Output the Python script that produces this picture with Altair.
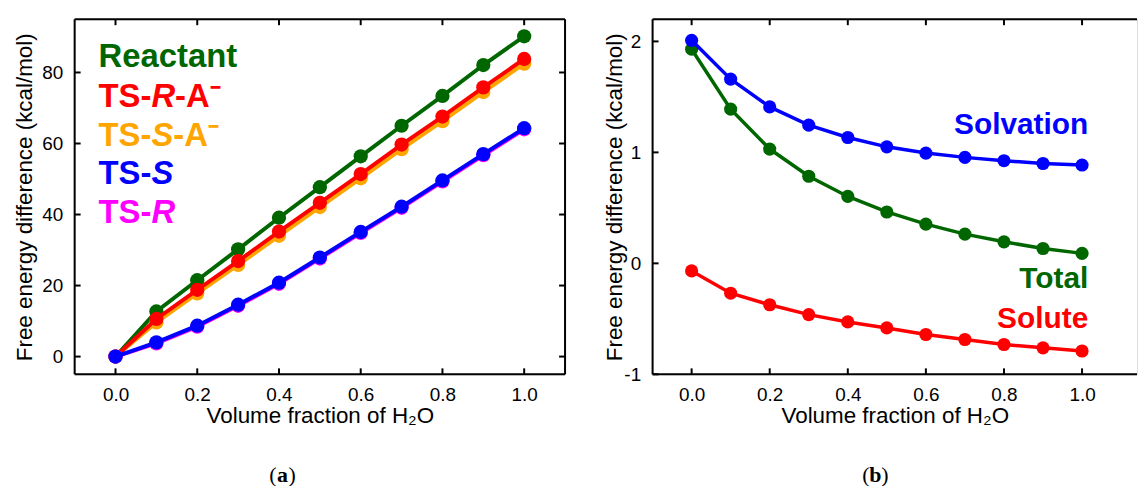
import altair as alt
import pandas as pd

# ---------------- data ----------------
x_frac = [0.0, 0.1, 0.2, 0.3, 0.4, 0.5, 0.6, 0.7, 0.8, 0.9, 1.0]

# panel (a)
reactant = [0, 12.7, 21.5, 30.2, 39.1, 47.7, 56.4, 65.0, 73.4, 82.1, 90.2]
ts_r_a = [0, 10.6, 18.8, 26.9, 35.2, 43.3, 51.4, 59.7, 67.6, 75.8, 83.8]
ts_s_a = [0, 9.6, 17.8, 25.8, 34.0, 42.1, 50.2, 58.4, 66.3, 74.5, 82.5]
ts_s = [0, 4.0, 8.7, 14.6, 20.8, 27.9, 35.1, 42.2, 49.6, 57.0, 64.3]
ts_r = [0, 3.7, 8.4, 14.3, 20.5, 27.6, 34.8, 41.9, 49.3, 56.7, 64.0]

# panel (b)
solvation = [2.01, 1.66, 1.41, 1.245, 1.134, 1.05, 0.994, 0.955, 0.925, 0.90, 0.886]
total = [1.93, 1.39, 1.03, 0.785, 0.603, 0.463, 0.353, 0.263, 0.194, 0.134, 0.09]
solute = [-0.068, -0.269, -0.373, -0.462, -0.528, -0.582, -0.641, -0.686, -0.731, -0.761, -0.79]

tick_x = [0.0, 0.2, 0.4, 0.6, 0.8, 1.0]
tick_y_a = [0, 20, 40, 60, 80]
tick_y_b = [-1, 0, 1, 2]

x_title = "Volume fraction of H₂O"
y_title = "Free energy difference (kcal/mol)"

# ---------------- style ----------------
FONT = "Liberation Sans"
SERIF = "Liberation Serif"
GREEN, RED, ORANGE, BLUE, MAGENTA = "#006600", "#ff0000", "#ffa500", "#0000ff", "#ff00ff"

WA, HA = 493, 357
WB, HB = 487, 357
TICK = 6


def x_enc(domain):
    return alt.X(
        "x:Q",
        scale=alt.Scale(domain=domain, nice=False, zero=False),
        axis=alt.Axis(
            values=tick_x, format=".1f", ticks=False, tickSize=0, domain=False, grid=False,
            labelFont=FONT, labelFontSize=19, labelColor="black",
            labelBaseline="alphabetic", labelPadding=26,
            title=x_title, titleFont=FONT, titleFontSize=22.5, titleFontWeight="normal",
            titleColor="black", titleBaseline="alphabetic", titleY=48,
        ),
    )


def y_enc(domain, values, title_x):
    return alt.Y(
        "y:Q",
        scale=alt.Scale(domain=domain, nice=False, zero=False),
        axis=alt.Axis(
            values=values, labelExpr="'' + datum.value", ticks=False, tickSize=0,
            domain=False, grid=False,
            labelFont=FONT, labelFontSize=19, labelColor="black", labelPadding=12,
            title=y_title, titleFont=FONT, titleFontSize=22.5, titleFontWeight="normal",
            titleColor="black", titleBaseline="alphabetic", titleX=title_x,
        ),
    )


def series_layers(vals, color, xe, ye, lw, size):
    df = pd.DataFrame({"x": x_frac, "y": vals})
    base = alt.Chart(df)
    return [
        base.mark_line(color=color, strokeWidth=lw).encode(x=xe, y=ye),
        base.mark_circle(color=color, opacity=1, size=size).encode(x=xe, y=ye),
    ]


def frame_layers(xe, ye, w, h, yvals, right=True):
    one = pd.DataFrame({"k": [0]})
    layers = []
    # borders
    layers.append(alt.Chart(one).mark_rule(color="black", strokeWidth=2).encode(
        x=alt.value(0), x2=alt.value(w), y=alt.value(0)))
    layers.append(alt.Chart(one).mark_rule(color="black", strokeWidth=2).encode(
        x=alt.value(0), x2=alt.value(w), y=alt.value(h)))
    layers.append(alt.Chart(one).mark_rule(color="black", strokeWidth=2).encode(
        x=alt.value(0), y=alt.value(0), y2=alt.value(h)))
    if right:
        layers.append(alt.Chart(one).mark_rule(color="black", strokeWidth=2).encode(
            x=alt.value(w), y=alt.value(0), y2=alt.value(h)))
    # inward ticks
    tx = alt.Chart(pd.DataFrame({"x": tick_x}))
    layers.append(tx.mark_rule(color="black", strokeWidth=2).encode(
        x=xe, y=alt.value(h), y2=alt.value(h - TICK)))
    layers.append(tx.mark_rule(color="black", strokeWidth=2).encode(
        x=xe, y=alt.value(0), y2=alt.value(TICK)))
    ty = alt.Chart(pd.DataFrame({"y": yvals}))
    layers.append(ty.mark_rule(color="black", strokeWidth=2).encode(
        y=ye, x=alt.value(0), x2=alt.value(TICK)))
    if right:
        layers.append(ty.mark_rule(color="black", strokeWidth=2).encode(
            y=ye, x=alt.value(w), x2=alt.value(w - TICK)))
    return layers


def text_piece(s, x, y, color, size, italic=False, bold=True, align="left", font=FONT):
    kw = dict(align=align, baseline="alphabetic", font=font, fontSize=size,
              fontWeight="bold" if bold else "normal", color=color)
    if italic:
        kw["fontStyle"] = "italic"
    return alt.Chart(pd.DataFrame({"t": [s]})).mark_text(**kw).encode(
        text="t:N", x=alt.value(x), y=alt.value(y))


def caption(letter, cx, y):
    return [
        text_piece("(", cx - 6, y, "black", 22, bold=False, align="right", font=SERIF),
        text_piece(letter, cx, y, "black", 22, bold=True, align="center", font=SERIF),
        text_piece(")", cx + 6, y, "black", 22, bold=False, align="left", font=SERIF),
    ]


# ---------------- panel (a) ----------------
xa = x_enc([-0.1, 1.1])
ya = y_enc([-5, 95], tick_y_a, -43)

layers_a = frame_layers(xa, ya, WA, HA, tick_y_a, right=True)
for vals, col in [(reactant, GREEN), (ts_s_a, ORANGE), (ts_r_a, RED), (ts_r, MAGENTA), (ts_s, BLUE)]:
    layers_a += series_layers(vals, col, xa, ya, 4, 205)

FS = 33
LX = 24
w_ts = 1.611 * FS
layers_a += [
    text_piece("Reactant", LX, 48, GREEN, FS),
    text_piece("TS-", LX, 88, RED, FS),
    text_piece("R", LX + w_ts, 88, RED, FS, italic=True),
    text_piece("-A⁻", LX + w_ts + 0.722 * FS, 88, RED, FS),
    text_piece("TS-", LX, 127, ORANGE, FS),
    text_piece("S", LX + w_ts, 127, ORANGE, FS, italic=True),
    text_piece("-A⁻", LX + w_ts + 0.667 * FS, 127, ORANGE, FS),
    text_piece("TS-", LX, 166, BLUE, FS),
    text_piece("S", LX + w_ts, 166, BLUE, FS, italic=True),
    text_piece("TS-", LX, 205, MAGENTA, FS),
    text_piece("R", LX + w_ts, 205, MAGENTA, FS, italic=True),
]
layers_a += caption("a", 282 - 73, 482 - 17)

panel_a = alt.layer(*layers_a).properties(width=WA, height=HA)

# ---------------- panel (b) ----------------
xb = x_enc([-0.1, -0.1 + WB / 392.5])
yb = y_enc([-1, 2.2], tick_y_b, -31)

layers_b = frame_layers(xb, yb, WB, HB, tick_y_b, right=False)
for vals, col in [(total, GREEN), (solute, RED), (solvation, BLUE)]:
    layers_b += series_layers(vals, col, xb, yb, 3.5, 175)

RX = 1086 - 648
layers_b += [
    text_piece("Solvation", RX, 115, BLUE, 30, align="right"),
    text_piece("Total", RX, 270, GREEN, 30, align="right"),
    text_piece("Solute", RX, 310, RED, 30, align="right"),
]
layers_b += caption("b", 872 - 648, 482 - 17)

panel_b = alt.layer(*layers_b).properties(width=WB, height=HB)

chart = alt.hconcat(panel_a, panel_b, spacing=36).properties(
    padding={"left": 5, "top": 8, "right": 0, "bottom": 0}
).configure_view(stroke=None).configure(background="white")

chart.save("out.html", embed_options={"renderer": "svg", "actions": False})
